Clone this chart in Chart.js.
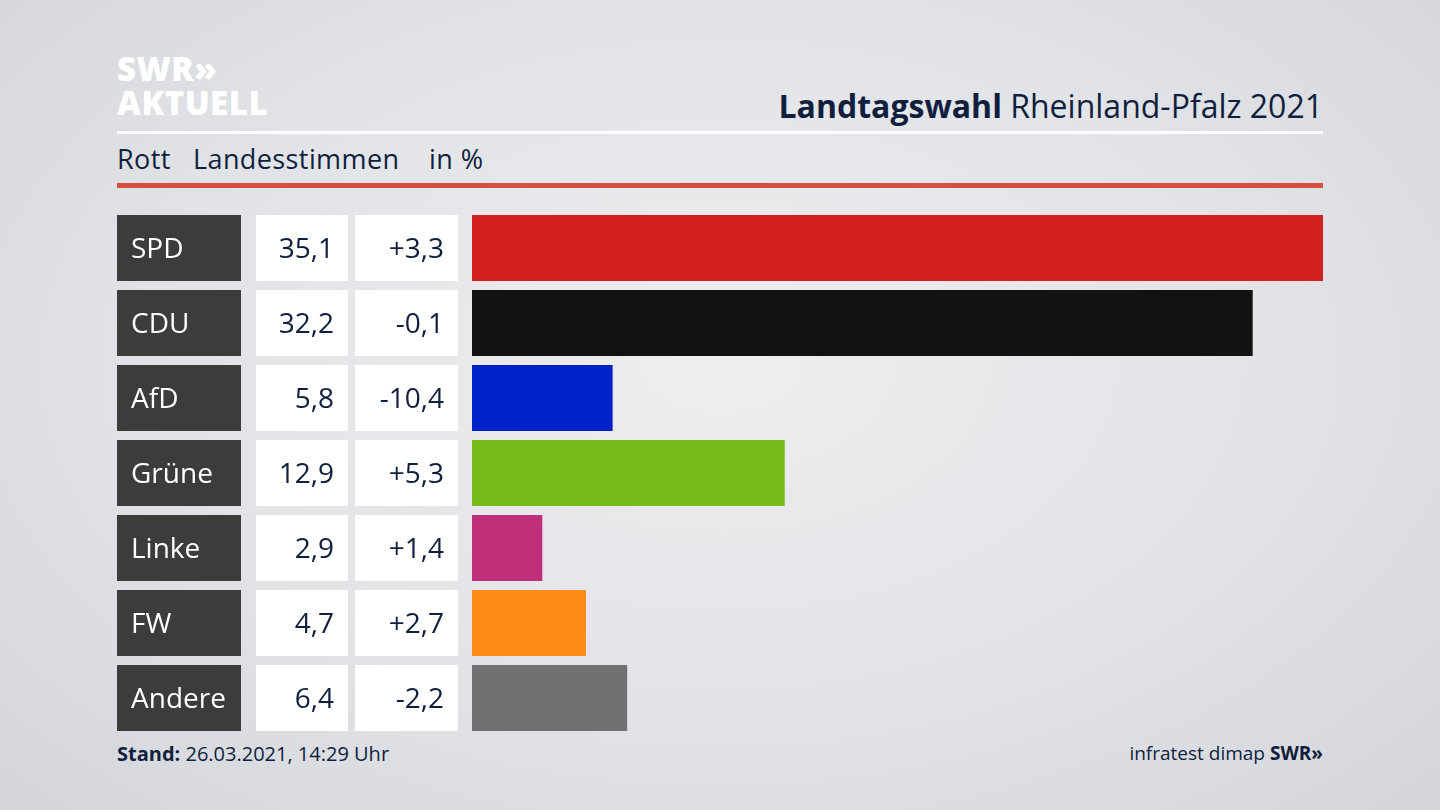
<!DOCTYPE html>
<html><head><meta charset="utf-8">
<script src="https://cdn.jsdelivr.net/npm/chart.js@4"></script>
<style>
  body { margin:0; width:1440px; height:810px; overflow:hidden; font-family:"Open Sans", sans-serif;
    background: radial-gradient(ellipse at 50% 45%, #eeeef0 0%, #e2e3e7 55%, #d3d5da 100%); position:relative; color:#0f1f3d; }
  .abs { position:absolute; white-space:nowrap; }
  #chart { position:absolute; left:0; top:0; }
</style></head>
<body>
<div class="abs" style="left:117px;top:52px;color:#fff;font-weight:800;font-size:33px;line-height:34px;letter-spacing:0.5px">SWR&raquo;<br>AKTUELL</div>
<div class="abs" style="right:117px;top:84px;font-size:32px;"><b>Landtagswahl</b> Rheinland-Pfalz 2021</div>
<div class="abs" style="left:117px;top:131px;width:1206px;height:3px;background:#fff"></div>
<div class="abs" style="left:117px;top:140px;font-size:27px;letter-spacing:0.4px">Rott&nbsp;&nbsp; Landesstimmen&nbsp;&nbsp;&nbsp; in %</div>
<div class="abs" style="left:117px;top:183px;width:1206px;height:5px;background:#d4503c"></div>
<div class="abs" style="left:117px;top:740px;font-size:20px"><b>Stand:</b> 26.03.2021, 14:29 Uhr</div>
<div class="abs" style="right:117px;top:740px;font-size:19px">infratest dimap <b>SWR&raquo;</b></div>
<canvas id="chart" width="1440" height="810"></canvas>
<script>
const parties = ['SPD', 'CDU', 'AfD', 'Grüne', 'Linke', 'FW', 'Andere'];
const shares = [35.1, 32.2, 5.8, 12.9, 2.9, 4.7, 6.4];
const changes = ['+3,3', '-0,1', '-10,4', '+5,3', '+1,4', '+2,7', '-2,2'];
const colors = ['#d61f1f', '#121212', '#0020c8', '#78bc1b', '#c0307a', '#fd8c14', '#717173'];

const fmt = v => v.toFixed(1).replace('.', ',');

const boxes = {
  id: 'boxes',
  afterDatasetsDraw(chart) {
    const ctx = chart.ctx;
    const meta = chart.getDatasetMeta(0);
    ctx.save();
    ctx.textBaseline = 'middle';
    ctx.font = '28px "Open Sans"';
    meta.data.forEach((bar, i) => {
      const h = bar.height, top = bar.y - h / 2, ty = bar.y + 2;
      ctx.fillStyle = '#3c3c3b';
      ctx.fillRect(117, top, 124, h);
      ctx.fillStyle = '#fff';
      ctx.fillRect(256, top, 92, h);
      ctx.fillRect(355, top, 103, h);
      ctx.textAlign = 'left';
      ctx.fillText(parties[i], 131, ty);
      ctx.fillStyle = '#0f1f3d';
      ctx.textAlign = 'right';
      ctx.fillText(fmt(shares[i]), 334, ty);
      ctx.fillText(changes[i], 444, ty);
    });
    ctx.restore();
  }
};

new Chart(document.getElementById('chart'), {
  type: 'bar',
  data: { labels: parties, datasets: [{ data: shares, backgroundColor: colors, barPercentage: 0.88, categoryPercentage: 1 }] },
  options: {
    indexAxis: 'y', responsive: false, animation: false,
    layout: { padding: { left: 472, right: 117, top: 210.5, bottom: 74.5 } },
    scales: { x: { display: false, min: 0, max: 35.1 }, y: { display: false } },
    plugins: { legend: { display: false }, tooltip: { enabled: false } }
  },
  plugins: [boxes]
});
</script>
</body></html>
